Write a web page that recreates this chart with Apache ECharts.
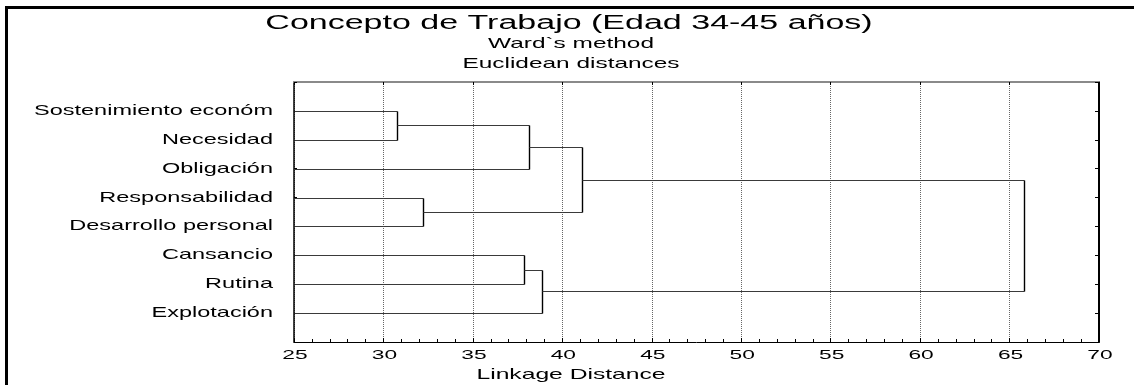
<!DOCTYPE html>
<html>
<head>
<meta charset="utf-8">
<script src="https://cdn.jsdelivr.net/npm/echarts@6/dist/echarts.min.js"></script>
<style>
html,body{margin:0;padding:0;background:#fff;}
#chart{width:1134px;height:385px;}
</style>
</head>
<body>
<div id="chart"></div>
<script>
// ---- data ----
const titleText = 'Concepto de Trabajo (Edad 34-45 años)';
const subtitleLines = ['Ward`s method', 'Euclidean distances'];
const axisNameText = 'Linkage Distance';
const leaves = ['Sostenimiento económ', 'Necesidad', 'Obligación', 'Responsabilidad',
                'Desarrollo personal', 'Cansancio', 'Rutina', 'Explotación'];
// merges: node indices (0-7 leaves, 8+ clusters in merge order)
const mergeLeft = [0, 3, 5, 8, 10, 11, 13];
const mergeRight = [1, 4, 6, 2, 7, 9, 12];
const mergeDistance = [30.75, 32.2, 37.83, 38.15, 38.87, 41.1, 65.8];
const tickLabels = [25, 30, 35, 40, 45, 50, 55, 60, 65, 70];
const xMin = 25, xMax = 70, xStep = 5;

// ---- build link table ----
const nodeY = leaves.map((_, i) => i + 1);
const nodeX = leaves.map(() => xMin);
const linkData = [];
mergeLeft.forEach((a, k) => {
  const b = mergeRight[k], d = mergeDistance[k];
  linkData.push([nodeX[a], nodeY[a], d, nodeY[b], nodeX[b]]);
  nodeY.push((nodeY[a] + nodeY[b]) / 2);
  nodeX.push(d);
});
const yMax = leaves.length + 1;

const FONT = '"Liberation Sans", Arial, sans-serif';
const crisp = v => Math.round(v) + 0.5;

const chart = echarts.init(document.getElementById('chart'), null, {renderer: 'canvas'});
chart.setOption({
  animation: false,
  backgroundColor: '#fff',
  grid: {left: 294, right: 35, top: 82, bottom: 43, containLabel: false, outerBoundsMode: 'none'},
  xAxis: [{
    type: 'value', position: 'bottom', min: xMin, max: xMax, interval: xStep,
    axisLine: {show: true, onZero: false, lineStyle: {color: '#000', width: 1}},
    axisTick: {show: true, inside: true, length: 4, lineStyle: {color: '#000'}},
    minorTick: {show: true, splitNumber: 5, length: 3, lineStyle: {color: '#000'}},
    axisLabel: {show: false},
    splitLine: {show: true, lineStyle: {color: '#666', width: 1, type: [1, 1]}}
  }, {
    type: 'value', position: 'top', min: xMin, max: xMax, interval: xStep,
    axisLine: {show: true, onZero: false, lineStyle: {color: '#8a8a8a', width: 2}},
    axisTick: {show: true, inside: true, length: 3, lineStyle: {color: '#000'}},
    axisLabel: {show: false},
    splitLine: {show: false}
  }],
  yAxis: [{
    type: 'value', position: 'left', inverse: true, min: 0, max: yMax, interval: 1,
    axisLine: {show: true, onZero: false, lineStyle: {color: '#000', width: 1.5}},
    axisTick: {show: true, inside: true, length: 3, lineStyle: {color: '#000'}},
    axisLabel: {show: false},
    splitLine: {show: false}
  }, {
    type: 'value', position: 'right', inverse: true, min: 0, max: yMax, interval: 1,
    axisLine: {show: true, onZero: false, lineStyle: {color: '#000', width: 2}},
    axisTick: {show: true, inside: true, length: 4, lineStyle: {color: '#000'}},
    axisLabel: {show: false},
    splitLine: {show: false}
  }],
  graphic: [
    {type: 'line', shape: {x1: 5, y1: 7.5, x2: 1134, y2: 7.5}, style: {stroke: '#000', lineWidth: 3}},
    {type: 'line', shape: {x1: 6.5, y1: 6, x2: 6.5, y2: 385}, style: {stroke: '#000', lineWidth: 3}},
    {type: 'text', x: 569, y: 23, scaleX: 1.7,
      style: {text: titleText, font: '20px ' + FONT, fill: '#000', align: 'center', verticalAlign: 'middle'}},
    {type: 'text', x: 571, y: 44, scaleX: 1.72,
      style: {text: subtitleLines[0], font: '14.2px ' + FONT, fill: '#000', align: 'center', verticalAlign: 'middle'}},
    {type: 'text', x: 571, y: 64, scaleX: 1.72,
      style: {text: subtitleLines[1], font: '14.2px ' + FONT, fill: '#000', align: 'center', verticalAlign: 'middle'}},
    {type: 'text', x: 571, y: 375, scaleX: 1.7,
      style: {text: axisNameText, font: '14.5px ' + FONT, fill: '#000', align: 'center', verticalAlign: 'middle'}}
  ],
  series: [{
    type: 'custom', name: 'links', coordinateSystem: 'cartesian2d', silent: true, clip: false,
    encode: {x: [0, 2, 4], y: [1, 3]},
    data: linkData,
    renderItem: function (params, api) {
      const p1 = api.coord([api.value(0), api.value(1)]);
      const p2 = api.coord([api.value(2), api.value(1)]);
      const p3 = api.coord([api.value(2), api.value(3)]);
      const p4 = api.coord([api.value(4), api.value(3)]);
      const h1 = [p1, p2].map(p => [crisp(p[0]), crisp(p[1])]);
      const h2 = [p3, p4].map(p => [crisp(p[0]), crisp(p[1])]);
      return {type: 'group', children: [
        {type: 'polyline', shape: {points: h1}, style: {stroke: '#3a3a3a', lineWidth: 1, fill: null}},
        {type: 'polyline', shape: {points: h2}, style: {stroke: '#3a3a3a', lineWidth: 1, fill: null}},
        {type: 'line', shape: {x1: crisp(p2[0]), y1: crisp(p2[1]), x2: crisp(p3[0]), y2: crisp(p3[1])},
          style: {stroke: '#000', lineWidth: 1.4}}
      ]};
    }
  }, {
    type: 'custom', name: 'leafLabels', coordinateSystem: 'cartesian2d', silent: true, clip: false,
    encode: {x: 0, y: 1},
    data: leaves.map((_, i) => [xMin, i + 1]),
    renderItem: function (params, api) {
      const p = api.coord([api.value(0), api.value(1)]);
      return {type: 'text', x: p[0] - 21, y: p[1], scaleX: 1.62,
        style: {text: leaves[params.dataIndex], font: '14.5px ' + FONT, fill: '#000', align: 'right', verticalAlign: 'middle'}};
    }
  }, {
    type: 'custom', name: 'tickLabels', coordinateSystem: 'cartesian2d', silent: true, clip: false,
    encode: {x: 0, y: 1},
    data: tickLabels.map(v => [v, yMax]),
    renderItem: function (params, api) {
      const p = api.coord([api.value(0), api.value(1)]);
      return {type: 'text', x: p[0] + 1, y: p[1] + 13, scaleX: 1.75,
        style: {text: String(tickLabels[params.dataIndex]), font: '13px ' + FONT, fill: '#000', align: 'center', verticalAlign: 'middle'}};
    }
  }]
});
</script>
</body>
</html>
